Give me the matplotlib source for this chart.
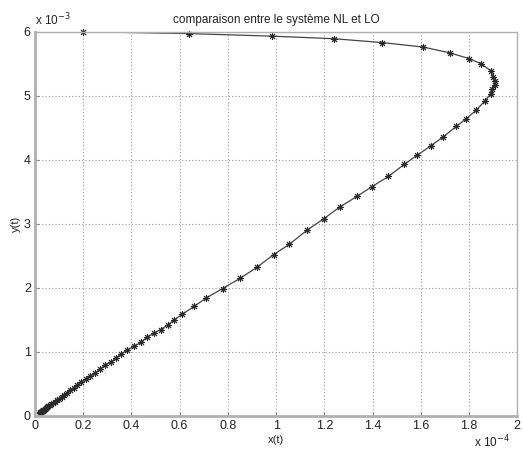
import matplotlib
matplotlib.use("Agg")
import matplotlib.pyplot as plt

# Trajectory of the NL system (x in units of 1e-4, y in units of 1e-3)
x_vals = [0.20, 0.64, 0.985, 1.24, 1.44, 1.61, 1.72, 1.80, 1.85, 1.89,
          1.90, 1.906, 1.906, 1.894, 1.89, 1.866, 1.829, 1.788, 1.747, 1.694,
          1.642, 1.585, 1.532, 1.466, 1.397, 1.336, 1.267, 1.198, 1.128, 1.055,
          0.99, 0.92, 0.851, 0.778, 0.709, 0.66, 0.611, 0.578, 0.55, 0.521,
          0.493, 0.464, 0.44, 0.411, 0.383, 0.358, 0.334, 0.314, 0.289, 0.269,
          0.248, 0.228, 0.212, 0.191, 0.175, 0.16, 0.146, 0.133, 0.121, 0.11,
          0.10, 0.09, 0.082, 0.074, 0.067, 0.061, 0.055, 0.05, 0.046, 0.042,
          0.038, 0.035, 0.032, 0.03, 0.028, 0.026, 0.024, 0.022, 0.02]
y_vals = [6.00, 5.97, 5.93, 5.89, 5.83, 5.76, 5.67, 5.58, 5.50, 5.39,
          5.30, 5.23, 5.17, 5.11, 5.03, 4.92, 4.77, 4.64, 4.52, 4.36,
          4.22, 4.07, 3.93, 3.74, 3.58, 3.43, 3.27, 3.08, 2.90, 2.68,
          2.52, 2.32, 2.15, 1.99, 1.84, 1.71, 1.59, 1.50, 1.42, 1.35,
          1.29, 1.23, 1.15, 1.09, 1.03, 0.97, 0.90, 0.84, 0.79, 0.73,
          0.67, 0.62, 0.58, 0.53, 0.48, 0.44, 0.40, 0.365, 0.33, 0.30,
          0.27, 0.245, 0.22, 0.20, 0.18, 0.165, 0.15, 0.135, 0.12, 0.11,
          0.10, 0.09, 0.08, 0.075, 0.07, 0.065, 0.06, 0.055, 0.05]

x_ticks = [0, 0.2, 0.4, 0.6, 0.8, 1, 1.2, 1.4, 1.6, 1.8, 2]
x_tick_labels = ["0", "0.2", "0.4", "0.6", "0.8", "1", "1.2", "1.4", "1.6", "1.8", "2"]
y_ticks = [0, 1, 2, 3, 4, 5, 6]
y_tick_labels = ["0", "1", "2", "3", "4", "5", "6"]

plt.rcParams['font.family'] = ['Liberation Sans', 'DejaVu Sans']

fig = plt.figure(figsize=(5.23, 4.5), dpi=100)
ax = fig.add_axes([0.0669, 0.0756, 0.922, 0.854])

ax.plot(x_vals, y_vals, color="#444444", linewidth=0.9)
# asterisk markers (8 spokes)
ax.plot(x_vals, y_vals, linestyle="none", marker=(8, 2, 0), markersize=5,
        markeredgewidth=0.7, color="#2a2a2a", clip_on=False)

ax.set_xlim(0, 2)
ax.set_ylim(0, 6)
ax.set_xticks(x_ticks)
ax.set_xticklabels(x_tick_labels)
ax.set_yticks(y_ticks)
ax.set_yticklabels(y_tick_labels)

ax.grid(True, linestyle=(0, (1, 2)), color="#999999", linewidth=0.8)
ax.tick_params(direction="in", length=3, width=0.8, colors="#888888",
               labelcolor="#222222", labelsize=9, pad=3)
for side, sp in ax.spines.items():
    sp.set_color("#b0b0b0")
    sp.set_linewidth(2.0 if side in ("left", "bottom") else 1.0)

ax.set_title("comparaison entre le système NL et LO", fontsize=8.5,
             color="#222222", pad=6)
ax.set_xlabel("x(t)", fontsize=8, labelpad=2, color="#222222")
ax.set_ylabel("y(t)", fontsize=8, labelpad=2, color="#222222")

ax.text(0.0, 1.01, r"x 10$^{-3}$", transform=ax.transAxes, fontsize=8.5,
        ha="left", va="bottom", color="#222222")
ax.text(0.985, -0.045, r"x 10$^{-4}$", transform=ax.transAxes, fontsize=8.5,
        ha="right", va="top", color="#222222")

fig.savefig("out.png", dpi=100)
